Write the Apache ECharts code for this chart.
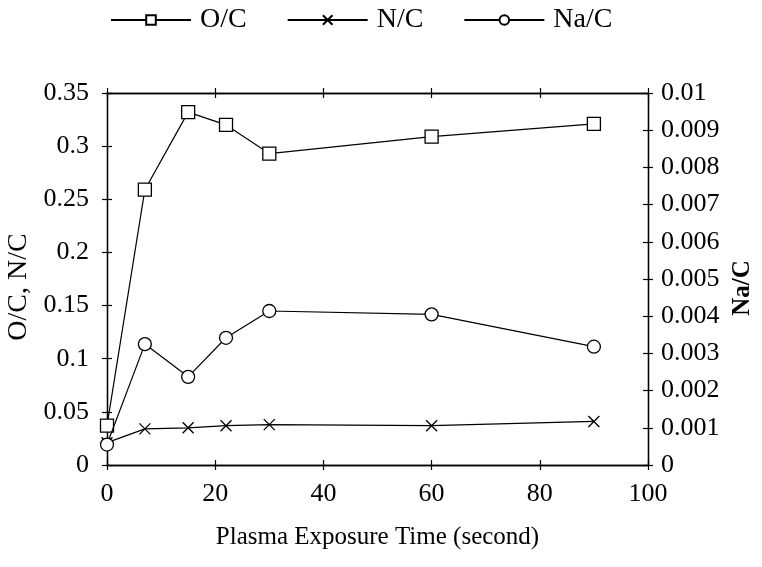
<!DOCTYPE html>
<html>
<head>
<meta charset="utf-8">
<script src="https://cdn.jsdelivr.net/npm/echarts@6/dist/echarts.min.js"></script>
<style>
  html, body { margin: 0; padding: 0; background: #fff; }
  #chart { width: 762px; height: 567px; }
</style>
</head>
<body>
<div id="chart"></div>
<script>
// Plasma exposure time (s)
const exposureTime = [0, 7, 15, 22, 30, 60, 90];
// Atomic ratios from XPS
const oxygenToCarbon   = [0.037, 0.259, 0.332, 0.320, 0.293, 0.309, 0.321];
const nitrogenToCarbon = [0.021, 0.034, 0.035, 0.037, 0.038, 0.037, 0.041];
const sodiumToCarbon   = [0.00055, 0.00325, 0.00237, 0.00342, 0.00414, 0.00405, 0.00318];

const seriesNames = ['O/C', 'N/C', 'Na/C'];
const xAxisTitle = 'Plasma Exposure Time (second)';
const leftAxisTitle = 'O/C, N/C';
const rightAxisTitle = 'Na/C';

const FONT = 'Liberation Serif';
const INK = '#000';
const crossSymbol = 'path://M0,0L10,10M0,10L10,0';

function pairs(xs, ys) { return xs.map((x, i) => [x, ys[i]]); }

const lineAxis = { show: true, onZero: false, lineStyle: { color: INK, width: 1.3 } };
const labelStyle = { color: INK, fontFamily: FONT, fontSize: 26 };
const tickOut = { show: true, inside: false, length: 5, lineStyle: { color: INK, width: 1.2 } };
const tickIn = { show: true, inside: true, length: 5, lineStyle: { color: INK, width: 1.2 } };

const xBase = { type: 'value', min: 0, max: 100, interval: 20, splitLine: { show: false } };
const yLeftBase = { type: 'value', min: 0, max: 0.35, interval: 0.05, splitLine: { show: false } };
const yRightBase = { type: 'value', min: 0, max: 0.01, interval: 0.001, splitLine: { show: false } };

const plotBox = { left: 107, right: 114, top: 93, bottom: 102, containLabel: false, outerBoundsMode: 'none' };

const chart = echarts.init(document.getElementById('chart'), null, { renderer: 'canvas' });

chart.setOption({
  backgroundColor: '#fff',
  animation: false,
  textStyle: { fontFamily: FONT, color: INK },
  // grid 0 carries the data and outward ticks; grid 1 overlays it with inward ticks
  grid: [Object.assign({}, plotBox), Object.assign({}, plotBox)],
  legend: {
    data: seriesNames,
    top: 6,
    left: 110,
    padding: 0,
    itemWidth: 80,
    itemHeight: 12,
    itemGap: 40,
    textStyle: { fontFamily: FONT, fontSize: 28, color: INK, padding: [0, 0, 0, 4] },
    inactiveColor: '#999'
  },
  xAxis: [
    Object.assign({}, xBase, {
      gridIndex: 0,
      position: 'bottom',
      axisLine: lineAxis,
      axisTick: tickOut,
      axisLabel: Object.assign({ margin: 16 }, labelStyle),
      name: xAxisTitle,
      nameLocation: 'middle',
      nameGap: 60,
      nameTextStyle: { fontFamily: FONT, fontSize: 25, color: INK }
    }),
    Object.assign({}, xBase, { gridIndex: 0, position: 'top', axisLine: lineAxis, axisTick: tickOut, axisLabel: { show: false } }),
    Object.assign({}, xBase, { gridIndex: 1, position: 'bottom', axisLine: lineAxis, axisTick: tickIn, axisLabel: { show: false } }),
    Object.assign({}, xBase, { gridIndex: 1, position: 'top', axisLine: lineAxis, axisTick: tickIn, axisLabel: { show: false } })
  ],
  yAxis: [
    Object.assign({}, yLeftBase, {
      gridIndex: 0,
      position: 'left',
      axisLine: lineAxis,
      axisTick: tickOut,
      axisLabel: Object.assign({ margin: 18, formatter: v => String(+v.toFixed(2)) }, labelStyle),
      name: leftAxisTitle,
      nameLocation: 'middle',
      nameGap: 72,
      nameRotate: 90,
      nameTextStyle: { fontFamily: FONT, fontSize: 28, color: INK, padding: [0, 16, 0, 0] }
    }),
    Object.assign({}, yRightBase, {
      gridIndex: 0,
      position: 'right',
      axisLine: lineAxis,
      axisTick: tickOut,
      axisLabel: Object.assign({ margin: 13, formatter: v => String(+v.toFixed(3)) }, labelStyle),
      name: rightAxisTitle,
      nameLocation: 'middle',
      nameGap: 81,
      nameRotate: 90,
      nameTextStyle: { fontFamily: FONT, fontSize: 25, fontWeight: 'bold', color: INK, padding: [0, 18, 0, 0] }
    }),
    Object.assign({}, yLeftBase, { gridIndex: 1, position: 'left', axisLine: lineAxis, axisTick: tickIn, axisLabel: { show: false } }),
    Object.assign({}, yRightBase, { gridIndex: 1, position: 'right', axisLine: lineAxis, axisTick: tickIn, axisLabel: { show: false } })
  ],
  series: [
    {
      name: seriesNames[0],
      type: 'line',
      xAxisIndex: 0,
      yAxisIndex: 0,
      data: pairs(exposureTime, oxygenToCarbon),
      symbol: 'rect',
      symbolSize: 13,
      showAllSymbol: true,
      lineStyle: { color: INK, width: 1.2 },
      itemStyle: { color: '#fff', borderColor: INK, borderWidth: 1.3 },
      z: 3
    },
    {
      name: seriesNames[1],
      type: 'line',
      xAxisIndex: 0,
      yAxisIndex: 0,
      data: pairs(exposureTime, nitrogenToCarbon),
      symbol: crossSymbol,
      symbolSize: 11,
      showAllSymbol: true,
      lineStyle: { color: INK, width: 1.2 },
      itemStyle: { color: INK, borderColor: INK, borderWidth: 1.3 },
      z: 2
    },
    {
      name: seriesNames[2],
      type: 'line',
      xAxisIndex: 0,
      yAxisIndex: 1,
      data: pairs(exposureTime, sodiumToCarbon),
      symbol: 'circle',
      symbolSize: 13,
      showAllSymbol: true,
      lineStyle: { color: INK, width: 1.2 },
      itemStyle: { color: '#fff', borderColor: INK, borderWidth: 1.3 },
      z: 4
    }
  ]
});
</script>
</body>
</html>
